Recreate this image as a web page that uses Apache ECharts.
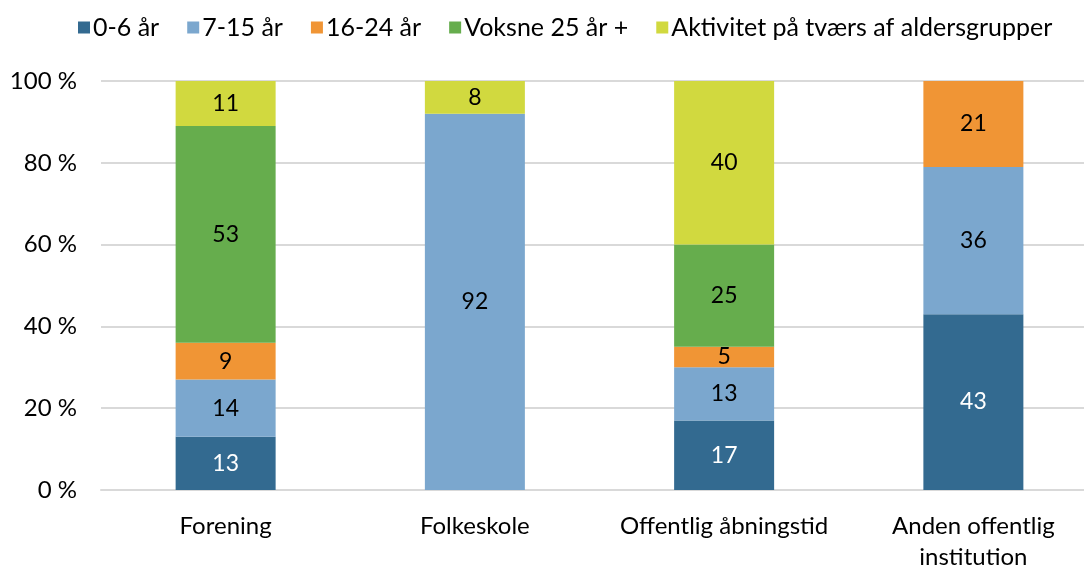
<!DOCTYPE html>
<html>
<head>
<meta charset="utf-8">
<script src="https://cdn.jsdelivr.net/npm/echarts@6/dist/echarts.min.js"></script>
<style>
  html, body { margin: 0; padding: 0; background: #fff; }
  #wrap { width: 1084px; height: 567px; overflow: hidden; }
  #chart { width: 1098px; height: 567px; }
</style>
</head>
<body>
<div id="wrap"><div id="chart"></div></div>
<script>
const categories = ["Forening", "Folkeskole", "Offentlig åbningstid", "Anden offentlig\ninstitution"];
const seriesNames = ["0-6 år", "7-15 år", "16-24 år", "Voksne 25 år +", "Aktivitet på tværs af aldersgrupper"];
const age0to6 = [13, null, 17, 43];
const age7to15 = [14, 92, 13, 36];
const age16to24 = [9, null, 5, 21];
const adults25 = [53, null, 25, null];
const acrossAges = [11, 8, 40, null];
const yTicks = [0, 20, 40, 60, 80, 100];

const colors = ["#336a90", "#7ba7ce", "#f09535", "#66ad4d", "#d1d93f"];
const labelColors = ["#fff", "#000", "#000", "#000", "#000"];
const values = [age0to6, age7to15, age16to24, adults25, acrossAges];
const FONT = "Lato, 'Open Sans', sans-serif";

const chart = echarts.init(document.getElementById("chart"), null, { renderer: "canvas" });

const series = values.map((data, i) => ({
    name: seriesNames[i],
    type: "bar",
    stack: "total",
    data: data,
    barWidth: 100,
    itemStyle: { color: colors[i] },
    label: {
        show: true,
        position: "inside",
        color: labelColors[i],
        fontSize: 23,
        fontFamily: FONT
    }
}));

chart.setOption({
    animation: false,
    color: colors,
    legend: {
        top: 10,
        left: 73,
        itemWidth: 12,
        itemHeight: 12,
        itemGap: 28,
        icon: "rect",
        textStyle: { fontSize: 25, fontFamily: FONT, color: "#000", padding: [0, 0, 0, -2] },
        data: seriesNames
    },
    grid: { left: 101, right: 0, top: 81, bottom: 77, containLabel: false, outerBoundsMode: "none" },
    xAxis: {
        type: "category",
        data: categories,
        axisTick: { show: false },
        axisLine: { lineStyle: { color: "#d9d9d9", width: 2 } },
        axisLabel: { interval: 0, fontSize: 24, fontFamily: FONT, color: "#000", margin: 21, lineHeight: 31 }
    },
    yAxis: {
        type: "value",
        min: 0,
        max: 100,
        interval: 20,
        axisLine: { show: false },
        axisTick: { show: false },
        splitLine: { lineStyle: { color: "#d9d9d9", width: 2 } },
        axisLabel: {
            fontSize: 24,
            fontFamily: FONT,
            color: "#000",
            margin: 24,
            formatter: v => yTicks.includes(v) ? v + " %" : ""
        }
    },
    series: series
});
</script>
</body>
</html>
